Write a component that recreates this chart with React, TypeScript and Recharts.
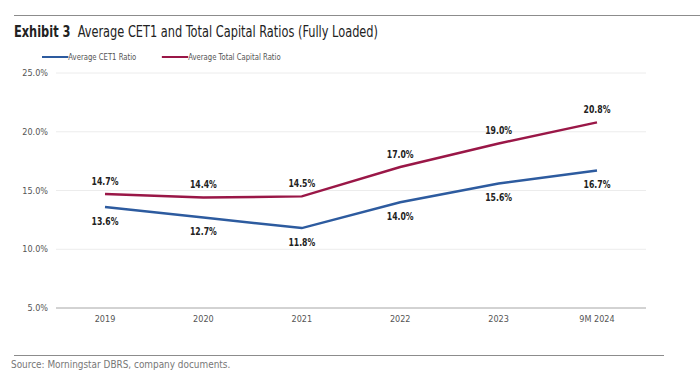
import React from 'react';
import { LineChart, Line, XAxis, YAxis, CartesianGrid, LabelList } from 'recharts';

const years = ['2019', '2020', '2021', '2022', '2023', '9M 2024'];
const cet1 = [13.6, 12.7, 11.8, 14.0, 15.6, 16.7];
const totalCapital = [14.7, 14.4, 14.5, 17.0, 19.0, 20.8];
const yTicks = [5, 10, 15, 20, 25];

const data = years.map((year, i) => ({ year, cet1: cet1[i], total: totalCapital[i] }));

const FONT = '"Liberation Sans Narrow", "DejaVu Sans Condensed", "Roboto", sans-serif';
const BLUE = '#2d5b9f';
const RED = '#9a1747';

const pct = (v: number) => `${v.toFixed(1)}%`;

// narrow bold value label, above or below the point
const makeLabel = (dy: number) => (props: any) => {
  const { x, y, value } = props;
  return (
    <text
      transform={`translate(${x},${y + dy}) scale(0.82,1)`}
      textAnchor="middle"
      dominantBaseline="central"
      fontSize={10.5}
      fontWeight="bold"
      fill="#222"
      fontFamily={FONT}
    >
      {pct(value)}
    </text>
  );
};

const App: React.FC = () => {
  return (
    <div style={{ position: 'absolute', left: 0, top: 0, width: 700, height: 386, background: '#fff', fontFamily: FONT }}>
      <div style={{ position: 'absolute', left: 14, top: 15, width: 686, height: 1, background: '#8c8c8c' }} />
      <div style={{ position: 'absolute', left: 14, top: 22, fontSize: 16, color: '#222', whiteSpace: 'nowrap', transform: 'scaleX(0.79)', transformOrigin: 'left top' }}>
        <b>Exhibit 3</b>&nbsp; Average CET1 and Total Capital Ratios (Fully Loaded)
      </div>
      <div style={{ position: 'absolute', left: 42, top: 52, display: 'flex', fontSize: 9, color: '#555', whiteSpace: 'nowrap', transform: 'scaleX(0.85)', transformOrigin: 'left top' }}>
        <div style={{ display: 'flex', alignItems: 'center', marginRight: 30 }}>
          <span style={{ width: 31, height: 2, background: BLUE, display: 'inline-block' }} />
          <span>Average CET1 Ratio</span>
        </div>
        <div style={{ display: 'flex', alignItems: 'center' }}>
          <span style={{ width: 31, height: 2, background: RED, display: 'inline-block' }} />
          <span>Average Total Capital Ratio</span>
        </div>
      </div>
      <div style={{ position: 'absolute', left: 0, top: 0 }}>
        <LineChart width={700} height={356} data={data} margin={{ top: 73, right: 54, bottom: 18, left: 0 }}>
          <CartesianGrid vertical={false} stroke="#ececec" />
          <XAxis
            dataKey="year"
            axisLine={{ stroke: '#b0b0b0' }}
            tickLine={false}
            padding={{ left: 49, right: 49 }}
            tick={{ fontSize: 9, fill: '#555', fontFamily: FONT }}
            height={30}
          />
          <YAxis
            width={56}
            domain={[5, 25]}
            ticks={yTicks}
            axisLine={false}
            tickLine={false}
            tickFormatter={pct}
            tick={{ fontSize: 9, fill: '#555', fontFamily: FONT }}
          />
          <Line type="linear" dataKey="total" stroke={RED} strokeWidth={2.5} dot={false} isAnimationActive={false}>
            <LabelList dataKey="total" content={makeLabel(-13)} />
          </Line>
          <Line type="linear" dataKey="cet1" stroke={BLUE} strokeWidth={2.5} dot={false} isAnimationActive={false}>
            <LabelList dataKey="cet1" content={makeLabel(14)} />
          </Line>
        </LineChart>
      </div>
      <div style={{ position: 'absolute', left: 14, top: 355, width: 650, height: 1, background: '#8c8c8c' }} />
      <div style={{ position: 'absolute', left: 11, top: 358, fontSize: 11, color: '#777', whiteSpace: 'nowrap', transform: 'scaleX(0.9)', transformOrigin: 'left top' }}>
        Source: Morningstar DBRS, company documents.
      </div>
    </div>
  );
};

export default App;
